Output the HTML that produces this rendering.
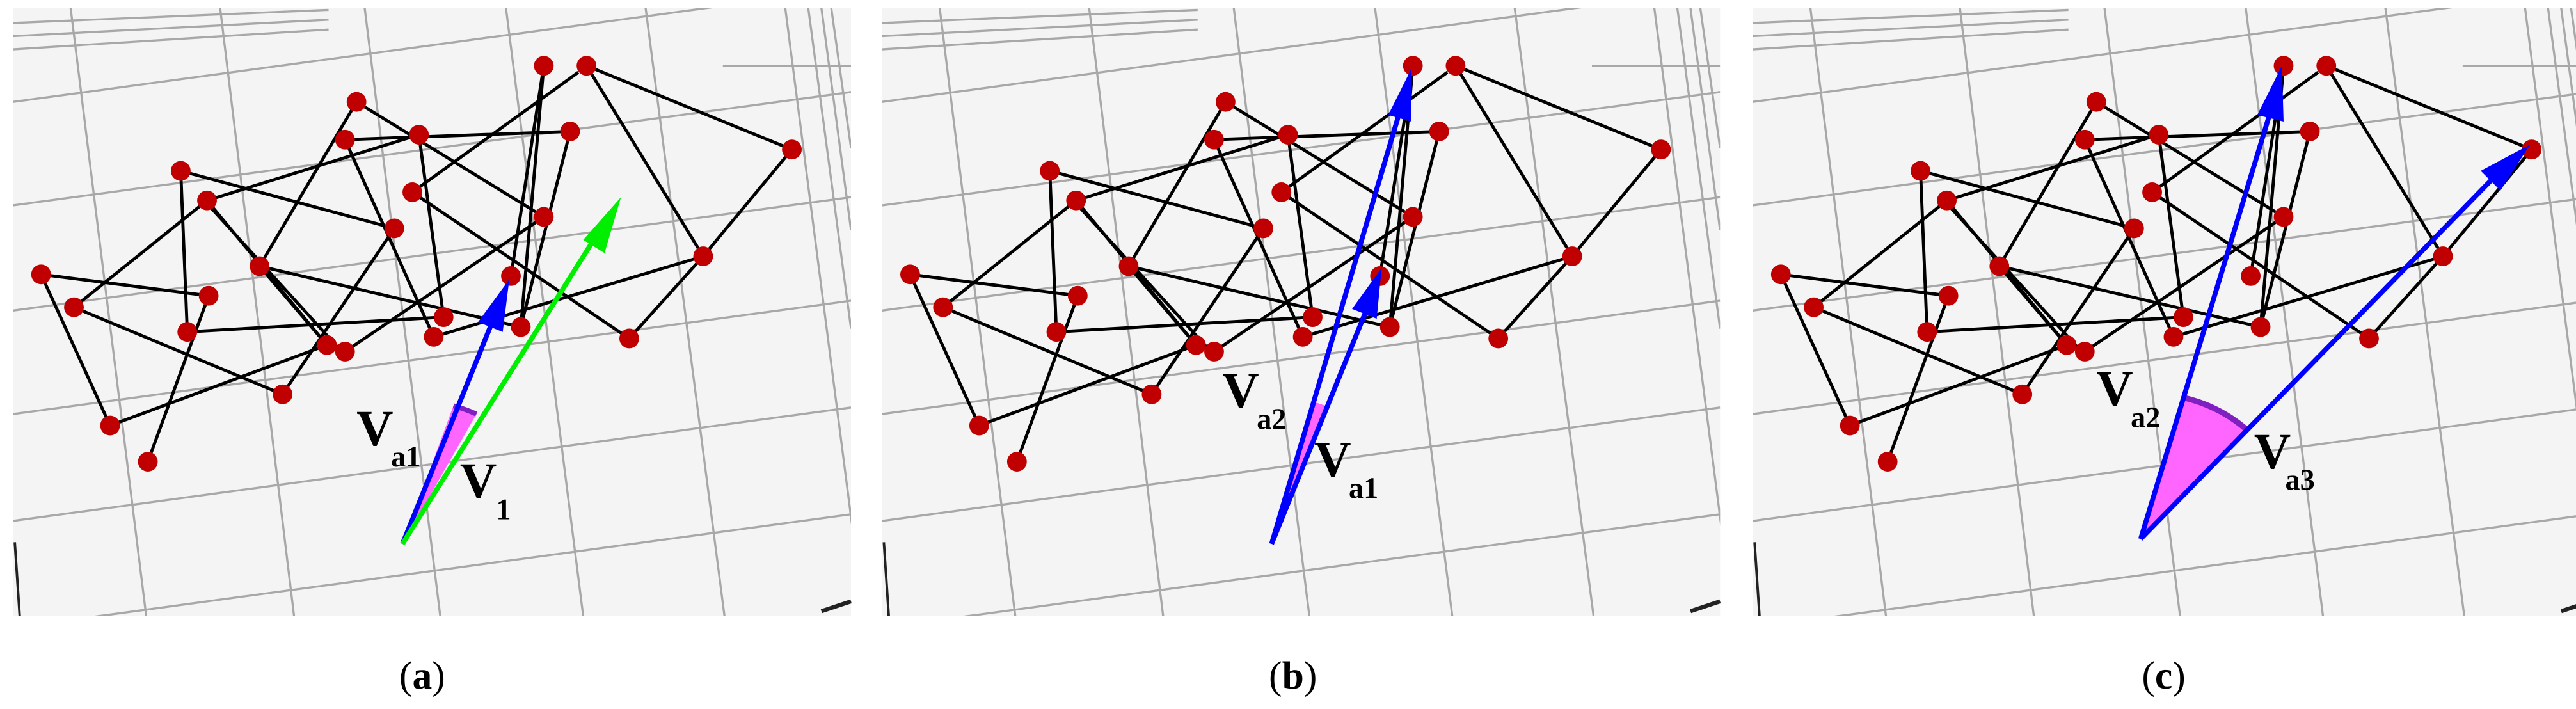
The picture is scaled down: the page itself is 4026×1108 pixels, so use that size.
<!DOCTYPE html>
<html><head><meta charset="utf-8"><style>html,body{margin:0;padding:0;background:#fff}svg{display:block}</style></head><body>
<svg width="4026" height="1108" viewBox="0 0 1568 431.5" preserveAspectRatio="none" xmlns="http://www.w3.org/2000/svg">
<defs>
<clipPath id="cp"><rect x="8" y="5" width="510" height="370"/></clipPath>
<g id="grid">
 <rect x="8" y="5" width="510" height="370" fill="#f4f4f4"/>
 <g clip-path="url(#cp)" stroke="#a8a8a8" stroke-width="1.3" fill="none">
  <line x1="8" y1="62" x2="518" y2="-7"/>
  <line x1="8" y1="125" x2="518" y2="56"/>
  <line x1="8" y1="189" x2="518" y2="120"/>
  <line x1="8" y1="252" x2="518" y2="183"/>
  <line x1="8" y1="317" x2="518" y2="248"/>
  <line x1="8" y1="382" x2="518" y2="313"/>
  <line x1="8" y1="14" x2="200" y2="6"/>
  <line x1="8" y1="22" x2="200" y2="12"/>
  <line x1="8" y1="30" x2="200" y2="18"/>
  <line x1="43" y1="5" x2="89" y2="375"/>
  <line x1="134" y1="5" x2="179" y2="375"/>
  <line x1="222" y1="5" x2="268" y2="375"/>
  <line x1="308" y1="5" x2="355" y2="375"/>
  <line x1="393" y1="5" x2="441" y2="375"/>
  <line x1="478" y1="5" x2="520" y2="330"/>
  <line x1="492" y1="5" x2="518" y2="200"/>
  <line x1="500" y1="5" x2="518" y2="140"/>
  <line x1="506" y1="5" x2="518" y2="90"/>
  <line x1="440" y1="40" x2="518" y2="40"/>
 </g>
 <line x1="9" y1="330" x2="12" y2="375" stroke="#222" stroke-width="1.5"/>
 <line x1="500" y1="372" x2="518" y2="366" stroke="#222" stroke-width="2.5"/>
</g>
<g id="net">
 <g stroke="#000" stroke-width="1.9" fill="none">
  <line x1="331" y1="40" x2="317" y2="199"/>
  <line x1="357" y1="40" x2="482" y2="91"/>
  <line x1="357" y1="40" x2="428" y2="156"/>
  <line x1="482" y1="91" x2="428" y2="156"/>
  <line x1="428" y1="156" x2="383" y2="206"/>
  <line x1="352" y1="44" x2="251" y2="117"/>
  <line x1="217" y1="62" x2="331" y2="132"/>
  <line x1="217" y1="62" x2="158" y2="162"/>
  <line x1="210" y1="85" x2="347" y2="80"/>
  <line x1="255" y1="82" x2="126" y2="122"/>
  <line x1="255" y1="82" x2="270" y2="193"/>
  <line x1="347" y1="80" x2="317" y2="199"/>
  <line x1="210" y1="85" x2="264" y2="205"/>
  <line x1="110" y1="104" x2="240" y2="139"/>
  <line x1="110" y1="104" x2="114" y2="202"/>
  <line x1="126" y1="122" x2="45" y2="187"/>
  <line x1="126" y1="122" x2="199" y2="210"/>
  <line x1="128" y1="126" x2="208" y2="214"/>
  <line x1="251" y1="117" x2="383" y2="206"/>
  <line x1="240" y1="139" x2="172" y2="240"/>
  <line x1="331" y1="132" x2="210" y2="214"/>
  <line x1="25" y1="167" x2="127" y2="180"/>
  <line x1="25" y1="167" x2="67" y2="259"/>
  <line x1="45" y1="187" x2="172" y2="240"/>
  <line x1="158" y1="162" x2="317" y2="199"/>
  <line x1="158" y1="162" x2="199" y2="210"/>
  <line x1="127" y1="180" x2="90" y2="281"/>
  <line x1="114" y1="202" x2="270" y2="193"/>
  <line x1="264" y1="205" x2="428" y2="156"/>
  <line x1="67" y1="259" x2="199" y2="210"/>
  <line x1="331" y1="40" x2="311" y2="168"/>
 </g>
 <g fill="#c00000">
  <circle cx="331" cy="40" r="6"/><circle cx="357" cy="40" r="6"/><circle cx="217" cy="62" r="6"/>
  <circle cx="210" cy="85" r="6"/><circle cx="255" cy="82" r="6"/><circle cx="347" cy="80" r="6"/>
  <circle cx="482" cy="91" r="6"/><circle cx="110" cy="104" r="6"/><circle cx="126" cy="122" r="6"/>
  <circle cx="251" cy="117" r="6"/><circle cx="240" cy="139" r="6"/><circle cx="331" cy="132" r="6"/>
  <circle cx="25" cy="167" r="6"/><circle cx="45" cy="187" r="6"/><circle cx="158" cy="162" r="6"/>
  <circle cx="127" cy="180" r="6"/><circle cx="311" cy="168" r="6"/><circle cx="428" cy="156" r="6"/>
  <circle cx="114" cy="202" r="6"/><circle cx="199" cy="210" r="6"/><circle cx="210" cy="214" r="6"/>
  <circle cx="270" cy="193" r="6"/><circle cx="264" cy="205" r="6"/><circle cx="317" cy="199" r="6"/>
  <circle cx="383" cy="206" r="6"/><circle cx="172" cy="240" r="6"/><circle cx="67" cy="259" r="6"/>
  <circle cx="90" cy="281" r="6"/>
 </g>
</g>
</defs>

<use href="#grid"/><use href="#net"/>
<g transform="translate(529,0)"><use href="#grid"/><use href="#net"/></g>
<g transform="translate(1059,0)"><use href="#grid"/><use href="#net"/></g>

<!-- panel a -->
<path d="M245,331 L276,247 A88,88 0 0 1 290,252 Z" fill="#ff66ff"/>
<path d="M276,247 A88,88 0 0 1 290,252" stroke="#8020c0" stroke-width="3" fill="none"/>
<line x1="245" y1="331" x2="300" y2="195" stroke="#0000ff" stroke-width="3"/>
<polygon points="310,170 291,196 306,202" fill="#0000ff"/>
<line x1="245" y1="331" x2="362" y2="145" stroke="#00ee00" stroke-width="3"/>
<polygon points="378,120 355,146 368,154" fill="#00ee00"/>
<!-- panel b -->
<path d="M774,331 L801,245 A90,90 0 0 1 807,247 Z" fill="#ff66ff"/>
<line x1="774" y1="331" x2="852" y2="68" stroke="#0000ff" stroke-width="3"/>
<polygon points="859,42 845,70 859,74" fill="#0000ff"/>
<line x1="774" y1="331" x2="832" y2="188" stroke="#0000ff" stroke-width="3"/>
<polygon points="841,163 823,188 838,194" fill="#0000ff"/>
<!-- panel c -->
<path d="M1303,328 L1329,242 A90,90 0 0 1 1367,261 Z" fill="#ff66ff"/>
<path d="M1329,242 A90,90 0 0 1 1367,261" stroke="#8020c0" stroke-width="3.5" fill="none"/>
<line x1="1303" y1="328" x2="1382" y2="68" stroke="#0000ff" stroke-width="3"/>
<polygon points="1389,40 1374,70 1390,74" fill="#0000ff"/>
<line x1="1303" y1="328" x2="1518" y2="108" stroke="#0000ff" stroke-width="3"/>
<polygon points="1540,88 1510,104 1522,116" fill="#0000ff"/>

<g font-family="Liberation Serif, serif" font-weight="bold" fill="#000">
 <text x="217" y="271" font-size="31">V</text><text x="238" y="284" font-size="18">a1</text>
 <text x="280" y="303" font-size="31">V</text><text x="302" y="316" font-size="18">1</text>
 <text x="744" y="248" font-size="31">V</text><text x="765" y="261" font-size="18">a2</text>
 <text x="800" y="290" font-size="31">V</text><text x="821" y="303" font-size="18">a1</text>
 <text x="1276" y="247" font-size="31">V</text><text x="1297" y="260" font-size="18">a2</text>
 <text x="1372" y="285" font-size="31">V</text><text x="1391" y="298" font-size="18">a3</text>
</g>
<g font-family="Liberation Serif, serif" font-size="24" fill="#000" text-anchor="middle">
 <text x="257" y="419">(<tspan font-weight="bold">a</tspan>)</text>
 <text x="787" y="419">(<tspan font-weight="bold">b</tspan>)</text>
 <text x="1317" y="419">(<tspan font-weight="bold">c</tspan>)</text>
</g>
</svg>
</body></html>
